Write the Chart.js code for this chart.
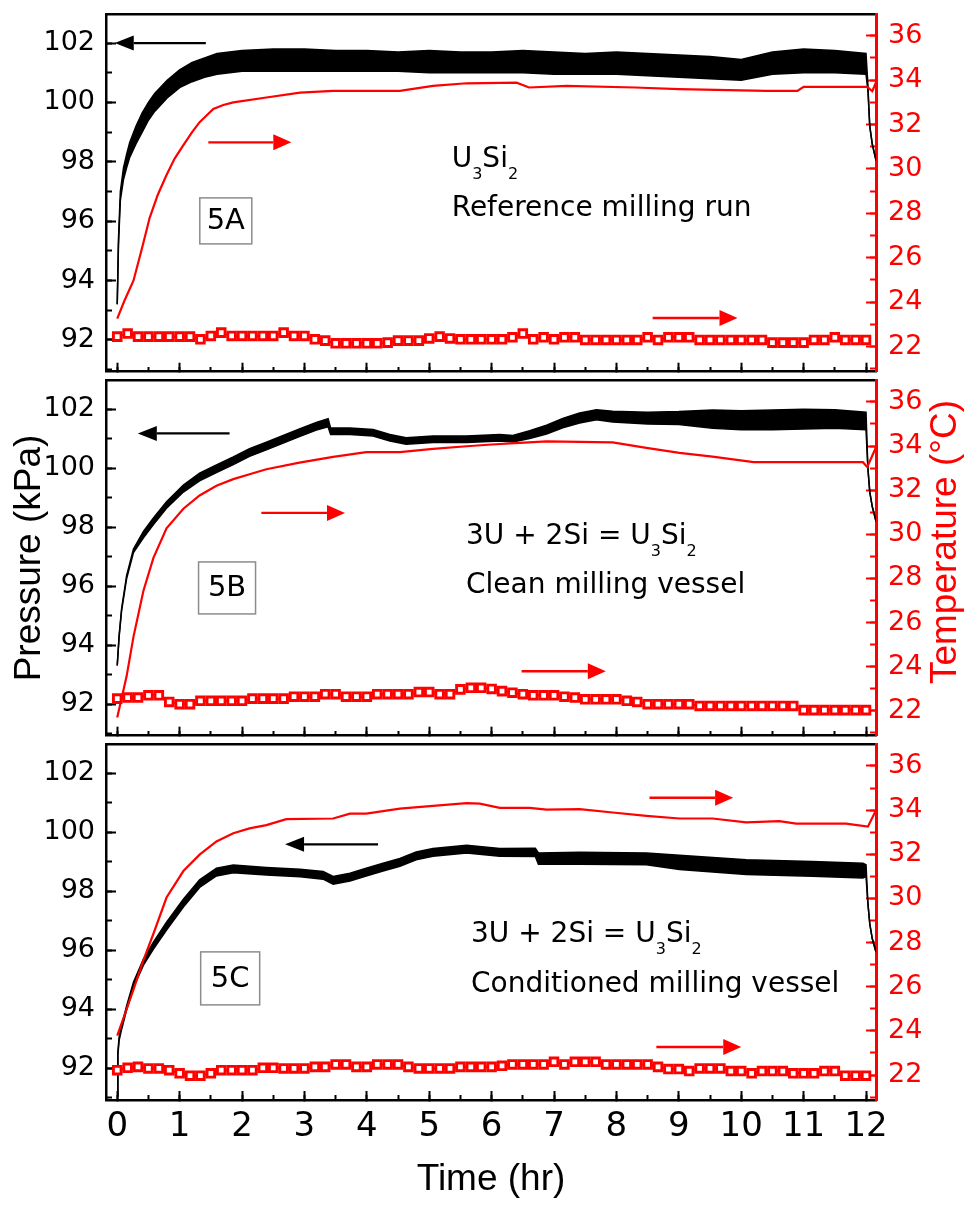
<!DOCTYPE html>
<html>
<head>
<meta charset="utf-8">
<script src="https://cdn.jsdelivr.net/npm/chart.js@4.4.1/dist/chart.umd.min.js"></script>
<style>
  html, body { margin: 0; padding: 0; background: #fff; }
  #wrap { position: relative; width: 971px; height: 1206px; background: #fff; }
  #wrap canvas { position: absolute; left: 0; }
</style>
</head>
<body>
<div id="wrap">
  <canvas id="panelA" width="971" height="380" style="top:0px"></canvas>
  <canvas id="panelB" width="971" height="372" style="top:372px"></canvas>
  <canvas id="panelC" width="971" height="470" style="top:736px"></canvas>
</div>
<script>
// ---- data ----
// 10-minute logger samples (square markers)
const logMinutes = [0, 10, 20, 30, 40, 50, 60, 70, 80, 90, 100, 110, 120, 130, 140, 150, 160, 170, 180, 190,
  200, 210, 220, 230, 240, 250, 260, 270, 280, 290, 300, 310, 320, 330, 340, 350, 360, 370, 380, 390,
  400, 410, 420, 430, 440, 450, 460, 470, 480, 490, 500, 510, 520, 530, 540, 550, 560, 570, 580, 590,
  600, 610, 620, 630, 640, 650, 660, 670, 680, 690, 700, 710, 720];

const ambientA = [22.45, 22.59, 22.45, 22.45, 22.45, 22.45, 22.45, 22.45, 22.33, 22.48, 22.63, 22.48, 22.48, 22.48, 22.48, 22.48,
  22.63, 22.48, 22.48, 22.33, 22.27, 22.15, 22.15, 22.15, 22.15, 22.15, 22.18, 22.27, 22.27, 22.27, 22.37, 22.45,
  22.37, 22.33, 22.33, 22.33, 22.33, 22.33, 22.42, 22.59, 22.33, 22.42, 22.33, 22.42, 22.42, 22.30, 22.30, 22.30,
  22.30, 22.30, 22.30, 22.42, 22.30, 22.42, 22.42, 22.42, 22.30, 22.30, 22.30, 22.30, 22.30, 22.30, 22.30, 22.18,
  22.18, 22.18, 22.18, 22.30, 22.30, 22.42, 22.30, 22.30, 22.30];
const ambientB = [22.55, 22.60, 22.60, 22.70, 22.70, 22.40, 22.30, 22.30, 22.45, 22.45, 22.45, 22.45, 22.45, 22.55, 22.55, 22.55,
  22.55, 22.64, 22.64, 22.64, 22.75, 22.75, 22.64, 22.64, 22.64, 22.75, 22.75, 22.75, 22.75, 22.85, 22.85, 22.75,
  22.75, 22.97, 23.04, 23.04, 22.99, 22.89, 22.82, 22.75, 22.70, 22.70, 22.70, 22.64, 22.60, 22.52, 22.52, 22.52,
  22.52, 22.45, 22.40, 22.30, 22.30, 22.30, 22.30, 22.30, 22.22, 22.22, 22.22, 22.22, 22.22, 22.22, 22.22, 22.22,
  22.22, 22.22, 22.03, 22.03, 22.03, 22.03, 22.03, 22.03, 22.03];
const ambientC = [22.22, 22.33, 22.37, 22.30, 22.30, 22.22, 22.08, 21.97, 21.97, 22.08, 22.22, 22.22, 22.22, 22.22, 22.33, 22.33,
  22.30, 22.30, 22.30, 22.37, 22.37, 22.48, 22.48, 22.37, 22.37, 22.48, 22.48, 22.48, 22.37, 22.30, 22.30, 22.30,
  22.30, 22.37, 22.37, 22.37, 22.37, 22.42, 22.48, 22.48, 22.48, 22.48, 22.60, 22.48, 22.60, 22.60, 22.60, 22.48,
  22.48, 22.48, 22.48, 22.48, 22.37, 22.27, 22.27, 22.18, 22.30, 22.30, 22.30, 22.18, 22.18, 22.08, 22.18, 22.18,
  22.18, 22.08, 22.08, 22.08, 22.18, 22.18, 21.97, 21.97, 21.97];

// vessel temperature (red line)
const tempTimeA = [0, 0.12, 0.26, 0.4, 0.52, 0.65, 0.79, 0.92, 1.06, 1.2, 1.32, 1.54, 1.7, 1.86, 2.39, 2.93, 3.46, 4.53,
  5.06, 5.6, 6.4, 6.6, 7.2, 8.3, 9.0, 10.4, 10.9, 11.0, 12.02, 12.1, 12.16];
const tempA = [23.26, 24.1, 24.97, 26.46, 27.8, 28.84, 29.73, 30.47, 31.07, 31.66, 32.11, 32.7, 32.88, 33.0, 33.22, 33.44, 33.52, 33.52,
  33.74, 33.86, 33.89, 33.67, 33.74, 33.67, 33.6, 33.52, 33.52, 33.7, 33.7, 33.5, 33.9];
const tempTimeB = [0, 0.15, 0.26, 0.42, 0.58, 0.79, 1.06, 1.32, 1.59, 1.86, 2.12, 2.39, 2.92, 3.46, 3.99, 4.53, 5.06, 5.6,
  6.0, 6.45, 6.88, 7.94, 8.48, 9.01, 9.54, 10.08, 10.2, 11.95, 12.02, 12.16];
const tempB = [21.7, 23.56, 25.35, 27.44, 28.93, 30.27, 31.16, 31.76, 32.2, 32.5, 32.72, 32.95, 33.25, 33.51, 33.72, 33.72, 33.87, 33.99,
  34.07, 34.14, 34.21, 34.17, 33.92, 33.69, 33.52, 33.32, 33.27, 33.27, 33.05, 33.95];
const tempTimeC = [0, 0.15, 0.26, 0.42, 0.58, 0.79, 1.06, 1.32, 1.59, 1.86, 2.12, 2.39, 2.71, 3.46, 3.73, 3.99, 4.53, 5.06,
  5.6, 5.81, 6.13, 6.61, 6.88, 7.41, 7.94, 8.48, 9.01, 9.54, 10.08, 10.61, 10.88, 11.68, 12.03, 12.16];
const tempC = [23.79, 24.98, 25.87, 27.21, 28.4, 30.04, 31.24, 31.98, 32.58, 32.95, 33.17, 33.32, 33.59, 33.62, 33.84, 33.84, 34.07, 34.19,
  34.32, 34.29, 34.1, 34.1, 34.02, 34.04, 33.89, 33.74, 33.62, 33.62, 33.44, 33.5, 33.39, 33.39, 33.25, 33.99];

// pressure trace: upper and lower edge of the noisy black band
const pressTimeA = [0, 0.02, 0.05, 0.1, 0.15, 0.2, 0.3, 0.4, 0.5, 0.6, 0.8, 1.0, 1.2, 1.4, 1.6, 1.8, 2.0, 2.5, 3.0, 3.5, 4.0,
  4.5, 5.0, 5.5, 6.0, 6.5, 7.0, 7.5, 8.0, 8.5, 9.0, 9.5, 10.0, 10.5, 11.0, 11.5, 12.0, 12.03, 12.06, 12.1, 12.16];
const pressHiA = [93.2, 95.4, 97.0, 97.8, 98.25, 98.65, 99.2, 99.65, 100.0, 100.3, 100.75, 101.1, 101.35, 101.5, 101.65, 101.7, 101.75, 101.8, 101.8, 101.75, 101.75,
  101.7, 101.75, 101.7, 101.7, 101.75, 101.7, 101.65, 101.7, 101.65, 101.6, 101.55, 101.45, 101.7, 101.8, 101.75, 101.65, 100.6, 99.2, 98.6, 98.05];
const pressLoA = [93.2, 95.2, 96.7, 97.4, 97.8, 98.15, 98.6, 99.0, 99.4, 99.7, 100.15, 100.5, 100.7, 100.85, 100.95, 101.0, 101.05, 101.05, 101.05, 101.05, 101.05,
  101.05, 101.0, 101.0, 101.0, 101.0, 100.95, 100.95, 100.95, 100.9, 100.85, 100.8, 100.75, 100.95, 101.0, 101.0, 100.95, 100.4, 99.2, 98.6, 98.05];

const pressTimeB = [0, 0.03, 0.07, 0.15, 0.26, 0.42, 0.58, 0.79, 1.06, 1.32, 1.59, 1.86, 2.12, 2.39, 2.66, 2.92, 3.19, 3.38, 3.42, 3.73,
  4.1, 4.37, 4.63, 5.06, 5.6, 6.13, 6.34, 6.61, 6.88, 7.14, 7.41, 7.68, 7.94, 8.5, 9.0, 9.54, 10.0, 10.5, 11.0, 11.5, 12.0, 12.03, 12.06, 12.1, 12.16];
const pressHiB = [93.31, 94.32, 95.23, 96.36, 97.26, 97.86, 98.31, 98.86, 99.43, 99.83, 100.11, 100.38, 100.66, 100.88, 101.11, 101.33, 101.55, 101.68, 101.36, 101.36,
  101.31, 101.14, 101.03, 101.09, 101.09, 101.14, 101.11, 101.27, 101.46, 101.69, 101.87, 101.98, 101.93, 101.9, 101.92, 101.97, 101.95, 101.97, 102.0, 101.98, 101.9, 100.0, 99.2, 98.7, 98.2];
const pressLoB = [93.31, 94.28, 95.17, 96.25, 97.14, 97.64, 98.09, 98.64, 99.19, 99.57, 99.85, 100.12, 100.4, 100.62, 100.85, 101.07, 101.29, 101.4, 101.14, 101.14,
  101.09, 100.92, 100.81, 100.87, 100.87, 100.92, 100.89, 101.01, 101.16, 101.37, 101.53, 101.64, 101.57, 101.5, 101.48, 101.35, 101.3, 101.3, 101.33, 101.35, 101.3, 100.0, 99.2, 98.7, 98.2];

const pressTimeC = [0, 0.01, 0.03, 0.07, 0.15, 0.26, 0.42, 0.58, 0.79, 1.06, 1.32, 1.59, 1.86, 2.39, 2.93, 3.3, 3.46, 3.73, 3.99,
  4.26, 4.53, 4.79, 5.06, 5.6, 6.13, 6.7, 6.75, 7.41, 8.48, 9.01, 10.08, 11.14, 11.95, 12.0, 12.03, 12.06, 12.1, 12.16];
const pressHiC = [91.07, 92.55, 93.06, 93.46, 94.12, 94.92, 95.7, 96.28, 96.95, 97.73, 98.39, 98.78, 98.89, 98.81, 98.75, 98.67, 98.5, 98.61, 98.78,
  98.95, 99.11, 99.33, 99.45, 99.56, 99.45, 99.46, 99.3, 99.32, 99.3, 99.22, 99.07, 99.01, 98.95, 98.9, 97.6, 96.9, 96.4, 95.94];
const pressLoC = [91.07, 92.45, 92.94, 93.32, 93.98, 94.74, 95.5, 96.04, 96.69, 97.47, 98.13, 98.52, 98.63, 98.55, 98.49, 98.41, 98.24, 98.35, 98.52,
  98.69, 98.85, 99.07, 99.19, 99.3, 99.19, 99.18, 98.92, 98.92, 98.9, 98.74, 98.57, 98.51, 98.45, 98.5, 97.6, 96.9, 96.4, 95.94];

// ---- axis ranges ----
const T_MIN = -0.18, T_MAX = 12.16;
const P_MIN = 90.93, P_MAX = 102.98;
const C_MIN = 20.87, C_MAX = 36.98;

const RED = '#ff0000';
const SANS = "'DejaVu Sans', sans-serif";
const ARIAL = "'Liberation Sans', Arial, sans-serif";
Chart.defaults.font.family = SANS;

const formula = [['3U + 2Si = U', 0], ['3', 1], ['Si', 0], ['2', 1]];

// annotations, in data coordinates
const NOTES = {
  panelA: {
    arrows: [
      { axis: 'yP', y: 102, from: 1.42, to: -0.04, color: '#000', head: 19, half: 7.5, width: 2.2 },
      { axis: 'yT', y: 31.2, from: 1.46, to: 2.79, color: RED, head: 18, half: 8, width: 2.4 },
      { axis: 'yT', y: 23.29, from: 8.58, to: 9.94, color: RED, head: 18, half: 8, width: 2.4 }
    ],
    boxes: [{ x: 1.74, y: 96.01, w: 52, h: 46, text: '5A' }],
    texts: [
      { x: 5.36, y: 97.83, parts: [['U', 0], ['3', 1], ['Si', 0], ['2', 1]] },
      { x: 5.36, y: 96.16, parts: [['Reference milling run', 0]] }
    ]
  },
  panelB: {
    arrows: [
      { axis: 'yP', y: 101.18, from: 1.8, to: 0.33, color: '#000', head: 19, half: 7.5, width: 2.2 },
      { axis: 'yT', y: 30.97, from: 2.31, to: 3.65, color: RED, head: 18, half: 8, width: 2.4 },
      { axis: 'yT', y: 23.79, from: 6.48, to: 7.83, color: RED, head: 18, half: 8, width: 2.4 }
    ],
    boxes: [{ x: 1.76, y: 95.94, w: 57, h: 52, text: '5B' }],
    texts: [
      { x: 5.59, y: 97.42, parts: formula },
      { x: 5.59, y: 95.78, parts: [['Clean milling vessel', 0]] }
    ],
    rightTitle: 'Temperature (°C)'
  },
  panelC: {
    arrows: [
      { axis: 'yP', y: 99.59, from: 4.18, to: 2.69, color: '#000', head: 19, half: 7.5, width: 2.2 },
      { axis: 'yT', y: 34.56, from: 8.53, to: 9.87, color: RED, head: 18, half: 8, width: 2.4 },
      { axis: 'yT', y: 23.27, from: 8.64, to: 10.0, color: RED, head: 18, half: 8, width: 2.4 }
    ],
    boxes: [{ x: 1.81, y: 95.05, w: 59, h: 53, text: '5C' }],
    texts: [
      { x: 5.67, y: 96.27, parts: formula },
      { x: 5.67, y: 94.6, parts: [['Conditioned milling vessel', 0]] }
    ]
  }
};

const notesPlugin = {
  id: 'notes',
  afterDraw(chart) {
    const n = NOTES[chart.canvas.id];
    if (!n) return;
    const { ctx, scales, chartArea } = chart;
    const X = scales.x;
    ctx.save();
    n.arrows.forEach(a => {
      const y = scales[a.axis].getPixelForValue(a.y);
      const x0 = X.getPixelForValue(a.from), x1 = X.getPixelForValue(a.to);
      const dir = Math.sign(x1 - x0);
      ctx.strokeStyle = a.color;
      ctx.fillStyle = a.color;
      ctx.lineWidth = a.width;
      ctx.beginPath();
      ctx.moveTo(x0, y);
      ctx.lineTo(x1 - dir * a.head, y);
      ctx.stroke();
      ctx.beginPath();
      ctx.moveTo(x1, y);
      ctx.lineTo(x1 - dir * a.head, y - a.half);
      ctx.lineTo(x1 - dir * a.head, y + a.half);
      ctx.closePath();
      ctx.fill();
    });
    n.boxes.forEach(b => {
      const cx = X.getPixelForValue(b.x), cy = scales.yP.getPixelForValue(b.y);
      ctx.strokeStyle = '#8c8c8c';
      ctx.lineWidth = 1.5;
      ctx.strokeRect(cx - b.w / 2, cy - b.h / 2, b.w, b.h);
      ctx.fillStyle = '#000';
      ctx.font = '29px ' + SANS;
      ctx.textAlign = 'center';
      ctx.textBaseline = 'middle';
      ctx.fillText(b.text, cx, cy + 1);
    });
    ctx.textAlign = 'left';
    ctx.textBaseline = 'alphabetic';
    ctx.fillStyle = '#000';
    n.texts.forEach(t => {
      let x = X.getPixelForValue(t.x);
      const y = scales.yP.getPixelForValue(t.y);
      t.parts.forEach(([str, sub]) => {
        ctx.font = (sub ? '16px ' : '28px ') + SANS;
        ctx.fillText(str, x, sub ? y + 12 : y);
        x += ctx.measureText(str).width;
      });
    });
    if (n.rightTitle) {
      ctx.translate(chart.width - 25, (chartArea.top + chartArea.bottom) / 2 - 16);
      ctx.rotate(-Math.PI / 2);
      ctx.font = '37px ' + ARIAL;
      ctx.fillStyle = RED;
      ctx.textAlign = 'center';
      ctx.textBaseline = 'middle';
      ctx.fillText(n.rightTitle, 0, 0);
    }
    ctx.restore();
  }
};

const pts = (xs, ys) => xs.map((x, i) => ({ x, y: ys[i] }));
const logHours = logMinutes.map(m => m / 60);

// pin an axis box to a fixed size and stop its labels from pushing the plot area
const pin = (w, h) => s => {
  if (w !== null) s.width = w;
  if (h !== null) s.height = h;
  s.paddingLeft = s.paddingRight = s.paddingTop = s.paddingBottom = 0;
};

function makePanel(id, p) {
  const last = !!p.last;
  return new Chart(document.getElementById(id), {
    type: 'line',
    data: {
      datasets: [
        { data: pts(logHours, p.ambient), xAxisID: 'x', yAxisID: 'yT', borderColor: RED, borderWidth: 2,
          pointStyle: 'rect', pointRadius: 5.4, pointBorderWidth: 2.9, pointBorderColor: RED, pointBackgroundColor: '#fff' },
        { data: pts(p.tempTime, p.temp), xAxisID: 'x', yAxisID: 'yT', borderColor: RED, borderWidth: 2.2, pointRadius: 0 },
        { data: pts(p.pressTime, p.hi), xAxisID: 'x', yAxisID: 'yP', borderColor: '#000', borderWidth: 1.5, pointRadius: 0 },
        { data: pts(p.pressTime, p.lo), xAxisID: 'x', yAxisID: 'yP', borderColor: '#000', borderWidth: 1.5, pointRadius: 0,
          fill: '-1', backgroundColor: '#000' }
      ]
    },
    options: {
      responsive: false,
      devicePixelRatio: 1,
      animation: false,
      events: [],
      layout: { padding: p.padding },
      plugins: { legend: { display: false }, tooltip: { enabled: false } },
      scales: {
        x: {
          type: 'linear', position: 'bottom', min: T_MIN, max: T_MAX,
          border: { color: '#000', width: 2.5 },
          grid: { drawOnChartArea: false, tickLength: -9, tickWidth: 2, tickColor: '#000' },
          ticks: { display: last, stepSize: 1, includeBounds: false, autoSkip: false, maxRotation: 0,
                   padding: 16, color: '#000', font: { family: SANS, size: 34 } },
          title: { display: last, text: 'Time (hr)', color: '#000', font: { family: ARIAL, size: 37 },
                   padding: { top: 0, bottom: 4 } },
          afterFit: pin(null, last ? 106 : 0)
        },
        xMinor: {
          type: 'linear', axis: 'x', position: { yP: P_MIN }, min: T_MIN, max: T_MAX,
          border: { display: false },
          grid: { drawOnChartArea: false, tickLength: -5, tickWidth: 2, tickColor: '#000' },
          ticks: { display: false, stepSize: 0.5, includeBounds: false, autoSkip: false },
          afterFit: pin(null, 0)
        },
        xTop: {
          type: 'linear', position: 'top', min: T_MIN, max: T_MAX,
          border: { color: '#000', width: 2.5 },
          grid: { display: false },
          ticks: { display: false },
          afterFit: pin(null, 0)
        },
        yP: {
          type: 'linear', position: 'left', min: P_MIN, max: P_MAX,
          border: { color: '#000', width: 2.5 },
          grid: { drawOnChartArea: false, tickLength: -10, tickWidth: 2, tickColor: '#000' },
          ticks: { stepSize: 2, includeBounds: false, autoSkip: false, padding: 21, color: '#000',
                   font: { family: SANS, size: 27 } },
          title: { display: !!p.titles, text: 'Pressure (kPa)', color: '#000', font: { family: ARIAL, size: 37 },
                   padding: { top: 8, bottom: 0 } },
          afterFit: pin(106, null)
        },
        yPMinor: {
          type: 'linear', axis: 'y', position: { x: T_MIN }, min: P_MIN, max: P_MAX,
          border: { display: false },
          grid: { drawOnChartArea: false, tickLength: -6, tickWidth: 2, tickColor: '#000' },
          ticks: { display: false, stepSize: 1, includeBounds: false, autoSkip: false },
          afterFit: pin(0, null)
        },
        yT: {
          type: 'linear', position: 'right', min: C_MIN, max: C_MAX,
          border: { color: RED, width: 3 },
          grid: { drawOnChartArea: false, tickLength: -10, tickWidth: 2, tickColor: RED },
          ticks: { stepSize: 2, includeBounds: false, autoSkip: false, padding: 22, color: RED,
                   font: { family: SANS, size: 27 } },
          afterFit: pin(95, null)
        },
        yTMinor: {
          type: 'linear', axis: 'y', position: { x: T_MAX }, min: C_MIN, max: C_MAX,
          border: { display: false },
          grid: { drawOnChartArea: false, tickLength: 6, tickWidth: 2, tickColor: RED },
          ticks: { display: false, stepSize: 1, includeBounds: false, autoSkip: false },
          afterFit: pin(0, null)
        }
      }
    },
    plugins: [notesPlugin]
  });
}

makePanel('panelA', {
  ambient: ambientA, tempTime: tempTimeA, temp: tempA,
  pressTime: pressTimeA, hi: pressHiA, lo: pressLoA,
  padding: { top: 14, bottom: 4, left: 0, right: 0 }
});
makePanel('panelB', {
  ambient: ambientB, tempTime: tempTimeB, temp: tempB,
  pressTime: pressTimeB, hi: pressHiB, lo: pressLoB,
  padding: { top: 4, bottom: 4, left: 0, right: 0 }, titles: true
});
makePanel('panelC', {
  ambient: ambientC, tempTime: tempTimeC, temp: tempC,
  pressTime: pressTimeC, hi: pressHiC, lo: pressLoC,
  padding: { top: 4, bottom: 0, left: 0, right: 0 }, last: true
});
</script>
</body>
</html>
